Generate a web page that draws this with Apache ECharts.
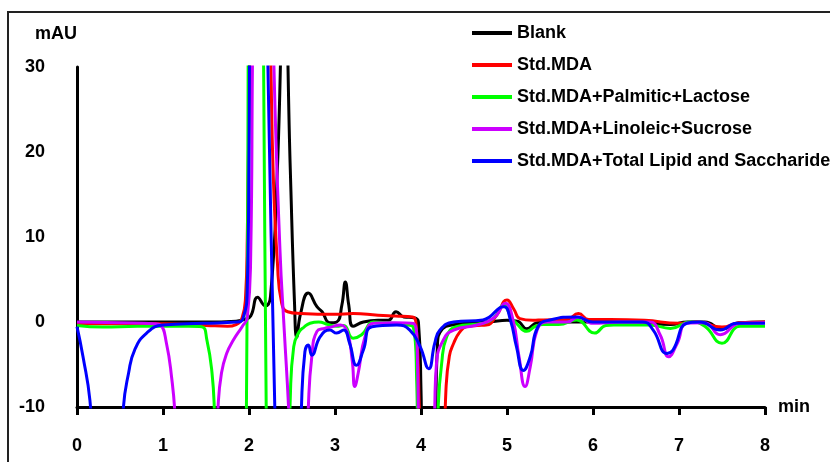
<!DOCTYPE html>
<html>
<head>
<meta charset="utf-8">
<title>Chromatogram</title>
<script src="https://cdn.jsdelivr.net/npm/echarts@6/dist/echarts.min.js"></script>
<style>
  html, body { margin: 0; padding: 0; background: #fff; }
  #chart { width: 830px; height: 462px; }
</style>
</head>
<body>
<div id="chart"></div>
<script>
// 图例名称
const seriesNames = ['Blank', 'Std.MDA', 'Std.MDA+Palmitic+Lactose', 'Std.MDA+Linoleic+Sucrose', 'Std.MDA+Total Lipid and Saccharide'];
const seriesColors = ['#000000', '#ff0000', '#00ff00', '#cc00ff', '#0000ff'];

// 坐标轴刻度
const xTicks = [0, 1, 2, 3, 4, 5, 6, 7, 8];
const yTicks = [-10, 0, 10, 20, 30];

// Blank
const blankT = [0, 0.5, 1.0, 1.5, 1.85, 1.95, 2.02, 2.1, 2.19, 2.25, 2.33, 2.41, 2.48, 2.53, 2.555, 2.6, 2.69, 2.79, 2.85, 2.94, 3.02, 3.08, 3.12, 3.16, 3.21, 3.33, 3.5, 3.62, 3.71, 3.8, 3.92, 3.97, 4.0, 4.02, 4.15, 4.19, 4.25, 4.4, 4.6, 4.8, 5.0, 5.12, 5.23, 5.35, 5.5, 6.0, 6.5, 6.9, 7.1, 7.3, 7.5, 7.7, 8.0];
const blankV = [0, 0, 0, 0, 0.1, 0.3, 0.7, 2.9, 1.9, 3, 18, 42, 18, 2, -1.8, 1, 3.4, 1.8, 1.2, -0.1, 0, 2, 4.7, 2, -0.5, 0, 0.2, 0.2, 1.2, 0.6, 0.5, 0, -8, -20, -20, -3, -0.8, -0.3, -0.1, 0, 0.2, 0.1, -0.8, -0.1, 0, 0, 0, -0.3, 0, 0, -0.8, -0.1, 0];

// Std.MDA
const mdaT = [0, 0.5, 1.0, 1.5, 1.75, 1.85, 1.92, 1.96, 1.98, 2.0, 2.05, 2.2, 2.25, 2.28, 2.33, 2.38, 2.45, 2.6, 3.0, 3.21, 3.5, 3.7, 3.9, 3.94, 3.98, 4.0, 4.25, 4.29, 4.33, 4.38, 4.45, 4.53, 4.65, 4.76, 4.88, 5.0, 5.08, 5.15, 5.3, 5.42, 5.7, 5.83, 5.95, 6.2, 6.6, 7.0, 7.2, 7.5, 7.7, 8.0];
const mdaV = [-0.2, -0.2, -0.2, -0.4, -0.5, -0.3, 0.5, 3, 10, 25, 50, 50, 32, 18, 7, 2.2, 1.2, 1.0, 0.9, 1.0, 0.8, 0.7, 0.6, 0, -10, -20, -20, -8, -4, -2.5, -1.2, -0.55, -0.4, -0.35, 0.8, 2.6, 1.5, 0.4, 0.2, 0.25, 0.3, 1.0, 0.3, 0.3, 0.2, -0.15, 0, -0.6, -0.1, 0];

// Std.MDA+Palmitic+Lactose
const palmT = [0, 0.3, 0.7, 1.0, 1.3, 1.45, 1.51, 1.57, 1.6, 1.63, 1.94, 1.97, 1.99, 2.0, 2.15, 2.17, 2.2, 2.22, 2.46, 2.48, 2.52, 2.58, 2.64, 2.71, 2.81, 2.92, 3.02, 3.1, 3.21, 3.31, 3.45, 3.6, 3.8, 3.91, 3.95, 3.97, 4.18, 4.2, 4.24, 4.3, 4.41, 4.72, 4.85, 4.96, 5.05, 5.11, 5.23, 5.33, 5.42, 5.6, 5.81, 6.02, 6.15, 6.24, 6.66, 6.9, 7.13, 7.3, 7.5, 7.71, 8.0];
const palmV = [-0.4, -0.6, -0.5, -0.5, -0.5, -0.55, -2.1, -6, -11, -20, -20, -10, 30, 50, 50, 30, -10, -20, -20, -9, -2.9, -1.2, -0.6, -0.15, 0, -0.3, -0.5, -0.4, -1.9, -1.5, 0, -0.1, -0.3, -0.6, -7, -20, -20, -10, -4.9, -1.7, -0.55, -0.15, 0.5, 2.0, 0.5, -0.15, -1.1, -0.5, -0.3, -0.3, 0.24, -1.3, -0.4, -0.35, -0.35, -0.75, 0, -0.5, -2.5, -0.5, -0.5];

// Std.MDA+Linoleic+Sucrose
const linoT = [0, 0.5, 0.9, 0.97, 1.04, 1.1, 1.14, 1.17, 1.6, 1.64, 1.68, 1.74, 1.82, 1.92, 1.98, 2.02, 2.04, 2.06, 2.26, 2.29, 2.36, 2.41, 2.46, 2.5, 2.66, 2.69, 2.73, 2.79, 2.88, 2.95, 3.06, 3.14, 3.2, 3.23, 3.27, 3.35, 3.45, 3.7, 3.92, 3.96, 3.98, 4.14, 4.16, 4.18, 4.26, 4.38, 4.65, 4.85, 4.98, 5.07, 5.14, 5.21, 5.27, 5.35, 5.46, 5.7, 5.83, 6.0, 6.3, 6.66, 6.78, 6.88, 6.98, 7.09, 7.3, 7.48, 7.71, 8.0];
const linoV = [0, -0.1, -0.2, -0.35, -2.5, -6.5, -11, -20, -20, -10, -6, -3.7, -2.1, -0.55, 0.5, 8, 30, 50, 50, 30, 8.5, -1, -10, -20, -20, -10, -4.1, -1.1, -0.75, -0.6, -0.35, -1.1, -4.5, -7.6, -6, -1.7, -0.15, -0.1, -0.2, -5, -20, -20, -10, -4.9, -2.1, -0.95, -0.35, 0.5, 2.2, 0.24, -4.1, -7.6, -5.3, -0.95, 0, 0, 0.6, -0.15, 0, 0, -1.5, -4.1, -2.5, -0.15, -0.1, -1.5, -0.15, -0.1];

// Std.MDA+Total Lipid and Saccharide
const totalT = [0, 0.07, 0.15, 0.18, 0.25, 0.5, 0.54, 0.6, 0.67, 0.81, 1.0, 1.47, 1.86, 1.93, 1.98, 2.0, 2.02, 2.2, 2.22, 2.3, 2.32, 2.59, 2.61, 2.65, 2.69, 2.73, 2.83, 2.94, 3.02, 3.1, 3.17, 3.25, 3.33, 3.43, 3.72, 3.87, 3.99, 4.09, 4.16, 4.22, 4.38, 4.72, 4.96, 5.04, 5.11, 5.19, 5.27, 5.36, 5.5, 5.81, 6.0, 6.58, 6.7, 6.86, 6.93, 7.09, 7.24, 7.48, 7.67, 8.0];
const totalV = [-0.55, -4.1, -9.2, -15, -20, -20, -10, -6, -3.3, -1.3, -0.35, -0.15, 0, 0.4, 4, 20, 50, 50, 30, -10, -20, -20, -10, -3.5, -2.7, -3.9, -1.7, -0.95, -1.3, -0.95, -2.5, -5.1, -3.3, -0.55, -0.35, -0.95, -2.9, -5.5, -2.5, -0.95, 0, 0.24, 1.8, 0.2, -2.9, -5.7, -4.1, -0.55, 0.24, 0.6, 0, 0, -0.95, -3.7, -3.3, -0.15, 0, -0.95, -0.15, -0.15];

const timeArrays = [blankT, mdaT, palmT, linoT, totalT];
const valueArrays = [blankV, mdaV, palmV, linoV, totalV];

function zip(ts, vs) {
  return ts.map((t, i) => [t, vs[i]]);
}

let chart = echarts.init(document.getElementById('chart'));

const axisFont = {
  fontFamily: 'Liberation Sans, Arial, sans-serif',
  fontWeight: 'bold',
  fontSize: 18,
  color: '#000'
};

let option = {
  backgroundColor: '#fff',
  animation: false,
  grid: {
    left: 77,
    right: 65,
    top: 67,
    bottom: 55
  },
  // 外框
  graphic: [
    {
      type: 'rect',
      shape: { x: 8, y: 12, width: 900, height: 500 },
      style: { fill: 'none', stroke: '#222', lineWidth: 2 },
      silent: true
    }
  ],
  legend: {
    data: seriesNames,
    orient: 'vertical',
    left: 467,
    top: 19,
    itemWidth: 40,
    itemHeight: 4,
    itemGap: 14,
    icon: 'rect',
    textStyle: {
      fontFamily: 'Liberation Sans, Arial, sans-serif',
      fontWeight: 'bold',
      fontSize: 18,
      lineHeight: 18,
      color: '#000'
    }
  },
  xAxis: {
    type: 'value',
    min: xTicks[0],
    max: xTicks[xTicks.length - 1],
    interval: 1,
    name: 'min',
    nameLocation: 'end',
    nameGap: 13,
    nameTextStyle: axisFont,
    axisLine: { onZero: false, lineStyle: { color: '#000', width: 3 } },
    axisTick: { show: true, length: 8, lineStyle: { color: '#000', width: 3 } },
    axisLabel: Object.assign({ margin: 30 }, axisFont),
    splitLine: { show: false }
  },
  yAxis: {
    type: 'value',
    min: yTicks[0],
    max: yTicks[yTicks.length - 1],
    interval: 10,
    name: 'mAU',
    nameLocation: 'end',
    nameGap: 33,
    nameTextStyle: Object.assign({ align: 'right', verticalAlign: 'middle' }, axisFont),
    axisLine: { show: true, onZero: false, lineStyle: { color: '#000', width: 3 } },
    axisTick: { show: false },
    axisLabel: Object.assign({ margin: 32 }, axisFont),
    splitLine: { show: false }
  },
  series: seriesNames.map((name, i) => ({
    name: name,
    type: 'line',
    data: zip(timeArrays[i], valueArrays[i]),
    symbol: 'none',
    smooth: 0.5,
    clip: true,
    lineStyle: { color: seriesColors[i], width: 3 },
    itemStyle: { color: seriesColors[i] }
  }))
};

chart.setOption(option);
</script>
</body>
</html>
